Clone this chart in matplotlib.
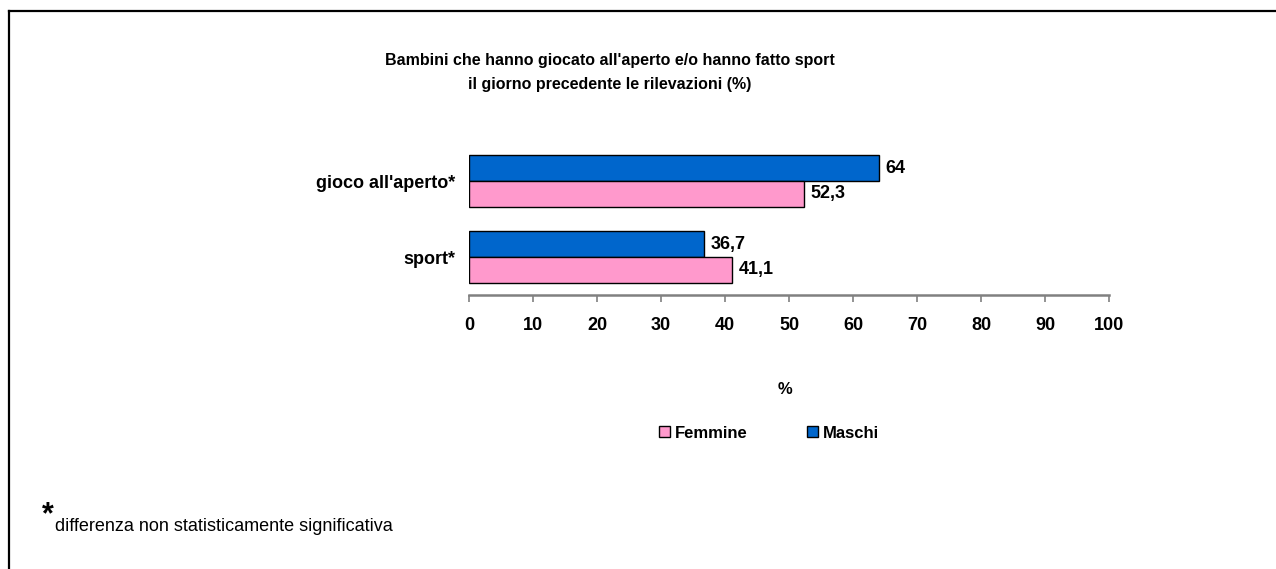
import matplotlib
matplotlib.use("Agg")
import matplotlib.pyplot as plt
from matplotlib.patches import Patch
from matplotlib.lines import Line2D

plt.rcParams["font.family"] = ["Liberation Sans", "DejaVu Sans"]

# data, top to bottom as drawn
categories = ["sport*", "gioco all'aperto*"]
maschi = [36.7, 64.0]
femmine = [41.1, 52.3]
x_ticks = [0, 10, 20, 30, 40, 50, 60, 70, 80, 90, 100]

title = ("Bambini che hanno giocato all'aperto e/o hanno fatto sport\n"
         "il giorno precedente le rilevazioni (%)")
footnote = "differenza non statisticamente significativa"

BLUE = "#0066CC"
PINK = "#FF99CC"
GREY = "#808080"

W, H = 1276, 569
fig = plt.figure(figsize=(W / 100, H / 100), dpi=100)


def fx(px):
    return px / W


def fy(py):
    return 1 - py / H


# plot area
ax = fig.add_axes([fx(469), fy(295), fx(1109) - fx(469), fy(143) - fy(295)])

h = 0.342
ypos = list(range(len(categories)))
ax.barh([y + h / 2 for y in ypos], maschi, height=h, color=BLUE,
        edgecolor="black", linewidth=1)
ax.barh([y - h / 2 for y in ypos], femmine, height=h, color=PINK,
        edgecolor="black", linewidth=1)


def fmt(v):
    return f"{v:g}".replace(".", ",")


for y, m, f in zip(ypos, maschi, femmine):
    ax.text(m + 1, y + h / 2, fmt(m), va="center", ha="left",
            fontsize=13, fontweight="bold")
    ax.text(f + 1, y - h / 2, fmt(f), va="center", ha="left",
            fontsize=13, fontweight="bold")

ax.set_xlim(0, 100)
ax.set_ylim(-0.5, len(categories) - 0.5)
ax.set_xticks(x_ticks)
ax.set_xticklabels([str(t) for t in x_ticks], fontsize=13, fontweight="bold")
ax.set_yticks(ypos)
ax.set_yticklabels(categories, fontsize=13, fontweight="bold")
ax.tick_params(axis="y", length=0, pad=10)
ax.tick_params(axis="x", direction="out", length=5, width=1.2, color=GREY,
               pad=11)
for s in ["top", "right", "left"]:
    ax.spines[s].set_visible(False)
ax.spines["bottom"].set_color(GREY)
ax.spines["bottom"].set_linewidth(1.8)

fig.text(fx(610), fy(72), title, ha="center", va="center", fontsize=11.5,
         fontweight="bold", linespacing=1.75)

fig.text(fx(785), fy(389), "%", ha="center", va="center", fontsize=12,
         fontweight="bold")

handles = [Patch(facecolor=PINK, edgecolor="black", linewidth=1),
           Patch(facecolor=BLUE, edgecolor="black", linewidth=1)]
fig.legend(handles, ["Femmine", "Maschi"], loc="center",
           bbox_to_anchor=(fx(769), fy(433)), ncol=2, frameon=False,
           prop={"size": 12, "weight": "bold"}, handlelength=0.65,
           handleheight=0.65, handletextpad=0.3, columnspacing=3.6)

fig.text(fx(42), fy(530), "*", ha="left", va="bottom", fontsize=22,
         fontweight="bold")
fig.text(fx(55), fy(531), footnote, ha="left", va="baseline", fontsize=13)

# outer frame (left and top edges)
fig.add_artist(Line2D([fx(9), fx(9)], [0, fy(11)], color="black",
                      linewidth=1.6, transform=fig.transFigure))
fig.add_artist(Line2D([fx(9), 1], [fy(11), fy(11)], color="black",
                      linewidth=1.6, transform=fig.transFigure))

fig.savefig("out.png", dpi=100)
